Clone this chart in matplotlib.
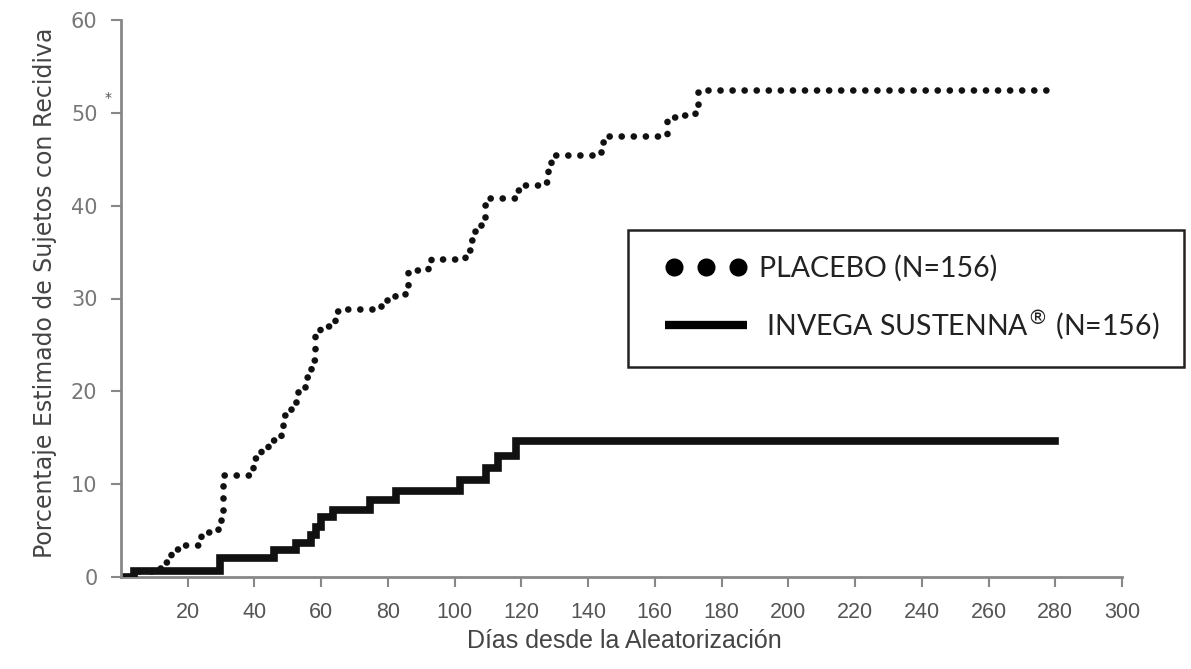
import matplotlib
matplotlib.use("Agg")
import matplotlib.pyplot as plt
from matplotlib.lines import Line2D
from matplotlib.legend_handler import HandlerLine2D

# Kaplan-Meier style step data (day of step, % after step)
placebo_days = [0, 4, 10, 13, 15, 17, 23, 24, 29, 30, 30.5, 31, 39.5, 42, 44, 48, 48.5, 51,
                53, 55, 56, 57, 58, 59.5, 64, 66, 78, 79.5, 82, 85, 86, 92, 93, 103, 104.5,
                106, 108, 109, 110.5, 118, 119.5, 126, 128, 129, 130, 144, 144.5, 145, 163.5,
                166, 172, 173, 175, 279]
placebo_pct = [0, 0.6, 1.0, 1.6, 3.0, 3.4, 4.2, 4.8, 5.5, 6.5, 10.2, 11.0, 12.8, 13.7, 14.8, 15.5,
               17.5, 18.8, 20.2, 21.5, 22.3, 23.4, 26.4, 27.0, 28.6, 28.9, 29.2, 29.8, 30.4, 30.9,
               33.1, 34.0, 34.3, 35.2, 36.3, 37.7, 38.1, 40.1, 40.8, 41.7, 42.2, 42.6, 43.9, 44.9,
               45.5, 46.3, 46.9, 47.5, 49.5, 49.8, 50.3, 52.2, 52.5, 52.5]

invega_days = [0, 4, 29.7, 46, 52.5, 57, 58.5, 60, 63.5, 74.5, 82.5, 101.5, 109.5, 113, 118.5, 280]
invega_pct = [0, 0.7, 2.0, 2.9, 3.7, 4.5, 5.4, 6.5, 7.2, 8.3, 9.3, 10.4, 11.7, 13.0, 14.6, 14.6]

x_ticks = list(range(20, 301, 20))
y_ticks = list(range(0, 61, 10))

fig = plt.figure(figsize=(11.91, 6.69), dpi=100)
ax = fig.add_axes([121 / 1191, 1 - 577 / 669, (1122 - 121) / 1191, (577 - 20) / 669])

ax.step(placebo_days, placebo_pct, where="post", color="#111111", lw=4.8,
        linestyle=(0, (0.01, 1.8)), dash_capstyle="round")
ax.step(invega_days, invega_pct, where="post", color="#111111", lw=5.5, solid_joinstyle="miter")

ax.set_xlim(0, 300)
ax.set_ylim(0, 60)
ax.set_xticks(x_ticks)
ax.set_yticks(y_ticks)
ax.set_xticklabels([str(t) for t in x_ticks], fontsize=15.5, color="#555555", family="Liberation Sans")
ax.set_yticklabels([str(t) for t in y_ticks], fontsize=15, color="#777777", family="DejaVu Sans")
ax.tick_params(axis="both", direction="out", length=7, width=1.5, color="#888888")
ax.tick_params(axis="x", pad=11)
ax.tick_params(axis="y", pad=10)
for s in ["top", "right"]:
    ax.spines[s].set_visible(False)
for s in ["left", "bottom"]:
    ax.spines[s].set_color("#888888")
    ax.spines[s].set_linewidth(2)
ax.spines["bottom"].set_zorder(0)

# small mark next to the 50 tick
ax.text(-3.9, 51.6, "*", fontsize=10, color="#555555", ha="center", va="center", clip_on=False)

ax.set_xlabel("Días desde la Aleatorización", fontsize=18, color="#444444",
              family="Liberation Sans")
ax.xaxis.set_label_coords(0.503, -0.093)
ax.set_ylabel("Porcentaje Estimado de Sujetos con Recidiva", fontsize=17, color="#444444",
              family="DejaVu Sans")
ax.yaxis.set_label_coords(-0.064, 0.51)

dots = Line2D([], [], ls="none", marker="o", ms=12, color="black")
bar = Line2D([], [], lw=6, color="black", solid_capstyle="butt")
labels = ["PLACEBO (N=156)", " INVEGA SUSTENNA$^{®}$ (N=156)"]
leg = fig.legend([dots, bar], labels, loc="upper left", bbox_to_anchor=(628 / 1191, 1 - 230 / 669),
                 borderaxespad=0, handlelength=3.3, handletextpad=0.42,
                 labelspacing=0.93, borderpad=0.87, fancybox=False, framealpha=1,
                 handler_map={dots: HandlerLine2D(numpoints=3, xpad=0.43),
                              bar: HandlerLine2D(xpad=0.43)},
                 prop={"family": "Lato", "size": 20.5})
leg.get_frame().set_edgecolor("#222222")
leg.get_frame().set_linewidth(1.8)
for t in leg.get_texts():
    t.set_color("#222222")

fig.savefig("out.png", dpi=100)
